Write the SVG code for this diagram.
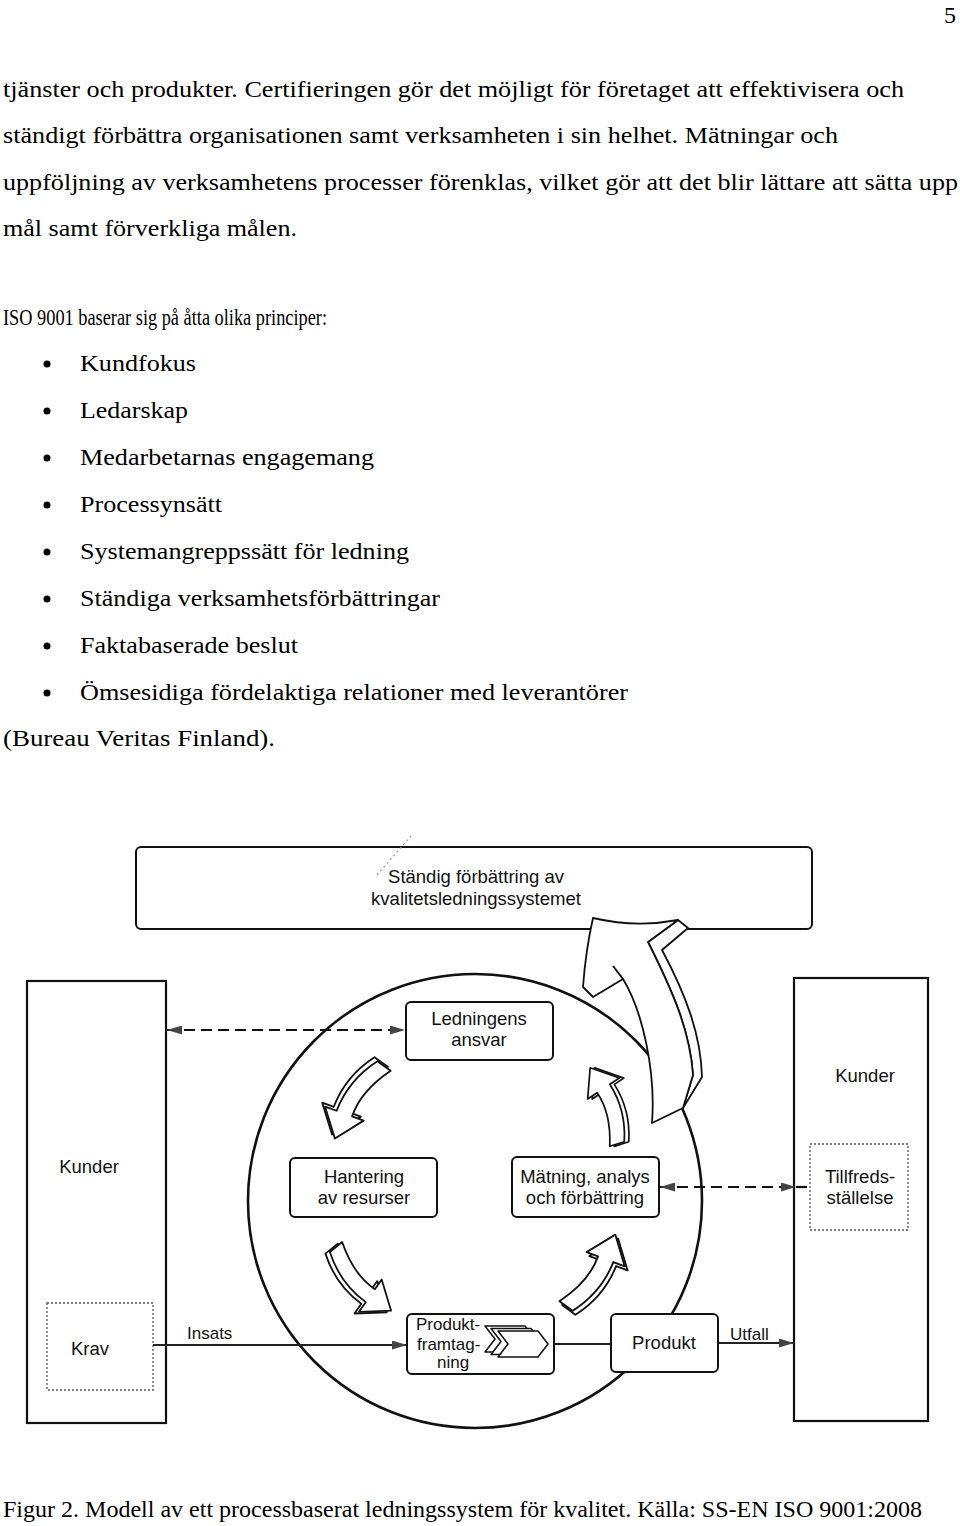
<svg xmlns="http://www.w3.org/2000/svg" width="960" height="1526" viewBox="0 0 960 1526">
<defs>
<style>
.body{font-family:"Liberation Serif","Times New Roman",serif;font-size:24px;fill:#000}
.lbl{font-family:"Liberation Sans",Arial,sans-serif;font-size:18.5px;fill:#111;text-anchor:middle}
.sm{font-family:"Liberation Sans",Arial,sans-serif;font-size:17px;fill:#111}
.box{fill:#fff;stroke:#111;stroke-width:2}
.big{fill:none;stroke:#111;stroke-width:2.2}
.dot{fill:#fff;stroke:#555;stroke-width:1.3;stroke-dasharray:2 2}
.dash{fill:none;stroke:#111;stroke-width:2.2;stroke-dasharray:11 6}
.solid{fill:none;stroke:#222;stroke-width:2}
.arw{fill:#fff;stroke:#111;stroke-width:1.8;stroke-linejoin:round}
.chev{fill:#fff;stroke:#111;stroke-width:1.5;stroke-linejoin:round}
</style>
<marker id="ah" viewBox="0 0 15 9" refX="15" refY="4.5" markerUnits="userSpaceOnUse" markerWidth="15" markerHeight="9" orient="auto-start-reverse"><path d="M0,0 L15,4.5 L0,9 Z" fill="#444"/></marker>
<g id="carrow">
<path class="arw" transform="translate(-1.5,4.5)" d="M0,-8 Q33,4 57.8,-3.7 L54.5,-15.2 L85,-2.8 L65.5,23.2 L62.2,11.7 Q31,20 0,8 Z"/>
<path class="arw" d="M0,-8 Q33,4 57.8,-3.7 L54.5,-15.2 L85,-2.8 L65.5,23.2 L62.2,11.7 Q31,20 0,8 Z"/>
</g>
<path id="chv" class="chev" d="M0,0 L40,0 L50,13 L40,26 L0,26 L10,13 Z"/>
</defs>
<rect width="960" height="1526" fill="#fff"/>

<g id="text">
<text class="body" x="944" y="23">5</text>
<text class="body" x="3" y="97" textLength="901" lengthAdjust="spacingAndGlyphs">tjänster och produkter. Certifieringen gör det möjligt för företaget att effektivisera och</text>
<text class="body" x="3" y="143" textLength="835" lengthAdjust="spacingAndGlyphs">ständigt förbättra organisationen samt verksamheten i sin helhet. Mätningar och</text>
<text class="body" x="3" y="190" textLength="955" lengthAdjust="spacingAndGlyphs">uppföljning av verksamhetens processer förenklas, vilket gör att det blir lättare att sätta upp</text>
<text class="body" x="3" y="236" textLength="294" lengthAdjust="spacingAndGlyphs">mål samt förverkliga målen.</text>
<text class="body" x="3" y="325" textLength="324" lengthAdjust="spacingAndGlyphs">ISO 9001 baserar sig på åtta olika principer:</text>
<g fill="#000">
<circle cx="47" cy="364" r="3.5"/><circle cx="47" cy="411" r="3.5"/><circle cx="47" cy="458" r="3.5"/><circle cx="47" cy="505" r="3.5"/>
<circle cx="47" cy="552" r="3.5"/><circle cx="47" cy="599" r="3.5"/><circle cx="47" cy="646" r="3.5"/><circle cx="47" cy="693" r="3.5"/>
</g>
<text class="body" x="80" y="371" textLength="116" lengthAdjust="spacingAndGlyphs">Kundfokus</text>
<text class="body" x="80" y="418" textLength="108" lengthAdjust="spacingAndGlyphs">Ledarskap</text>
<text class="body" x="80" y="465" textLength="294" lengthAdjust="spacingAndGlyphs">Medarbetarnas engagemang</text>
<text class="body" x="80" y="512" textLength="142" lengthAdjust="spacingAndGlyphs">Processynsätt</text>
<text class="body" x="80" y="559" textLength="329" lengthAdjust="spacingAndGlyphs">Systemangreppssätt för ledning</text>
<text class="body" x="80" y="606" textLength="360" lengthAdjust="spacingAndGlyphs">Ständiga verksamhetsförbättringar</text>
<text class="body" x="80" y="653" textLength="218" lengthAdjust="spacingAndGlyphs">Faktabaserade beslut</text>
<text class="body" x="80" y="700" textLength="548" lengthAdjust="spacingAndGlyphs">Ömsesidiga fördelaktiga relationer med leverantörer</text>
<text class="body" x="3" y="746" textLength="272" lengthAdjust="spacingAndGlyphs">(Bureau Veritas Finland).</text>
<text class="body" x="3" y="1517" textLength="919" lengthAdjust="spacingAndGlyphs">Figur 2. Modell av ett processbaserat ledningssystem för kvalitet. Källa: SS-EN ISO 9001:2008</text>
</g>

<g id="improvement">
<rect class="box" x="136" y="847" width="676" height="82" rx="5"/>
<line x1="377" y1="875" x2="411" y2="836" stroke="#999" stroke-width="1.2" stroke-dasharray="2 3"/>
<text class="lbl" x="476" y="883">Ständig förbättring av</text>
<text class="lbl" x="476" y="905">kvalitetsledningssystemet</text>
</g>

<g id="kunder-in">
<rect class="big" x="27" y="981" width="139" height="442"/>
<text class="lbl" x="89" y="1173">Kunder</text>
</g>
<g id="krav">
<rect class="dot" x="47" y="1303" width="106" height="87"/>
<text class="lbl" x="90" y="1355">Krav</text>
</g>

<g id="kunder-out">
<rect class="big" x="794" y="978" width="134" height="443"/>
<text class="lbl" x="865" y="1082">Kunder</text>
</g>
<g id="tillfreds">
<rect class="dot" x="810" y="1144" width="98" height="86"/>
<text class="lbl" x="860" y="1183">Tillfreds-</text>
<text class="lbl" x="860" y="1204">ställelse</text>
</g>

<g id="cycle">
<circle cx="475" cy="1201" r="227" fill="none" stroke="#111" stroke-width="2.6"/>
</g>

<g id="connectors">
<line class="dash" x1="167" y1="1030" x2="405" y2="1030" marker-start="url(#ah)" marker-end="url(#ah)"/>
<line class="dash" x1="660" y1="1187" x2="796" y2="1187" marker-start="url(#ah)" marker-end="url(#ah)"/>
<line class="dash" x1="796" y1="1187" x2="810" y2="1187" stroke-dasharray="none"/>
<line class="solid" x1="153" y1="1345" x2="407" y2="1345" marker-end="url(#ah)"/>
<line class="solid" x1="554" y1="1344" x2="611" y2="1344"/>
<line class="solid" x1="718" y1="1343" x2="794" y2="1343" marker-end="url(#ah)"/>
<text class="sm" x="187" y="1339">Insats</text>
<text class="sm" x="730" y="1340">Utfall</text>
</g>

<g id="ledningens">
<rect class="box" x="406" y="1002" width="147" height="58" rx="5"/>
<text class="lbl" x="479" y="1025">Ledningens</text>
<text class="lbl" x="479" y="1046">ansvar</text>
</g>
<g id="hantering">
<rect class="box" x="290" y="1158" width="147" height="59" rx="5"/>
<text class="lbl" x="364" y="1183">Hantering</text>
<text class="lbl" x="364" y="1204">av resurser</text>
</g>
<g id="matning">
<rect class="box" x="512" y="1157" width="147" height="60" rx="5"/>
<text class="lbl" x="585" y="1183">Mätning, analys</text>
<text class="lbl" x="585" y="1204">och förbättring</text>
</g>
<g id="produktframtagning">
<rect class="box" x="407" y="1314" width="147" height="60" rx="5"/>
<text class="sm" x="416" y="1330">Produkt-</text>
<text class="sm" x="417" y="1350">framtag-</text>
<text class="sm" x="437" y="1368">ning</text>
<use href="#chv" x="485" y="1326"/>
<use href="#chv" x="491" y="1328.5"/>
<use href="#chv" x="498" y="1331"/>
</g>
<g id="produkt">
<rect class="box" x="611" y="1314" width="107" height="58" rx="5"/>
<text class="lbl" x="664" y="1349">Produkt</text>
</g>

<g id="cycle-arrows">
<use href="#carrow" transform="translate(384,1066) rotate(126) scale(1.03)"/>
<use href="#carrow" transform="translate(336,1247) rotate(51) scale(0.99)"/>
<use href="#carrow" transform="translate(566,1306) rotate(-53.5) scale(1.02)"/>
<use href="#carrow" transform="translate(617,1144) rotate(-107.5) scale(0.95)"/>
</g>

<g id="big-arrow">
<path class="arw" stroke-width="2" d="M678,920 L688,928 L662,950 C686,995 701,1035 702,1077 L683,1108 L693,1075 C690,1030 672,990 648,942 Z"/>
<path class="arw" stroke-width="2" d="M593,918 Q636,928 678,920 L648,942 C672,990 690,1030 693,1075 L683,1108 L652,1123 C656,1070 642,1010 623,979 L593,997 L583,987 C585,960 588,940 593,918 Z"/>
<line x1="613" y1="966" x2="623" y2="979" stroke="#111" stroke-width="2"/>
</g>
</svg>
